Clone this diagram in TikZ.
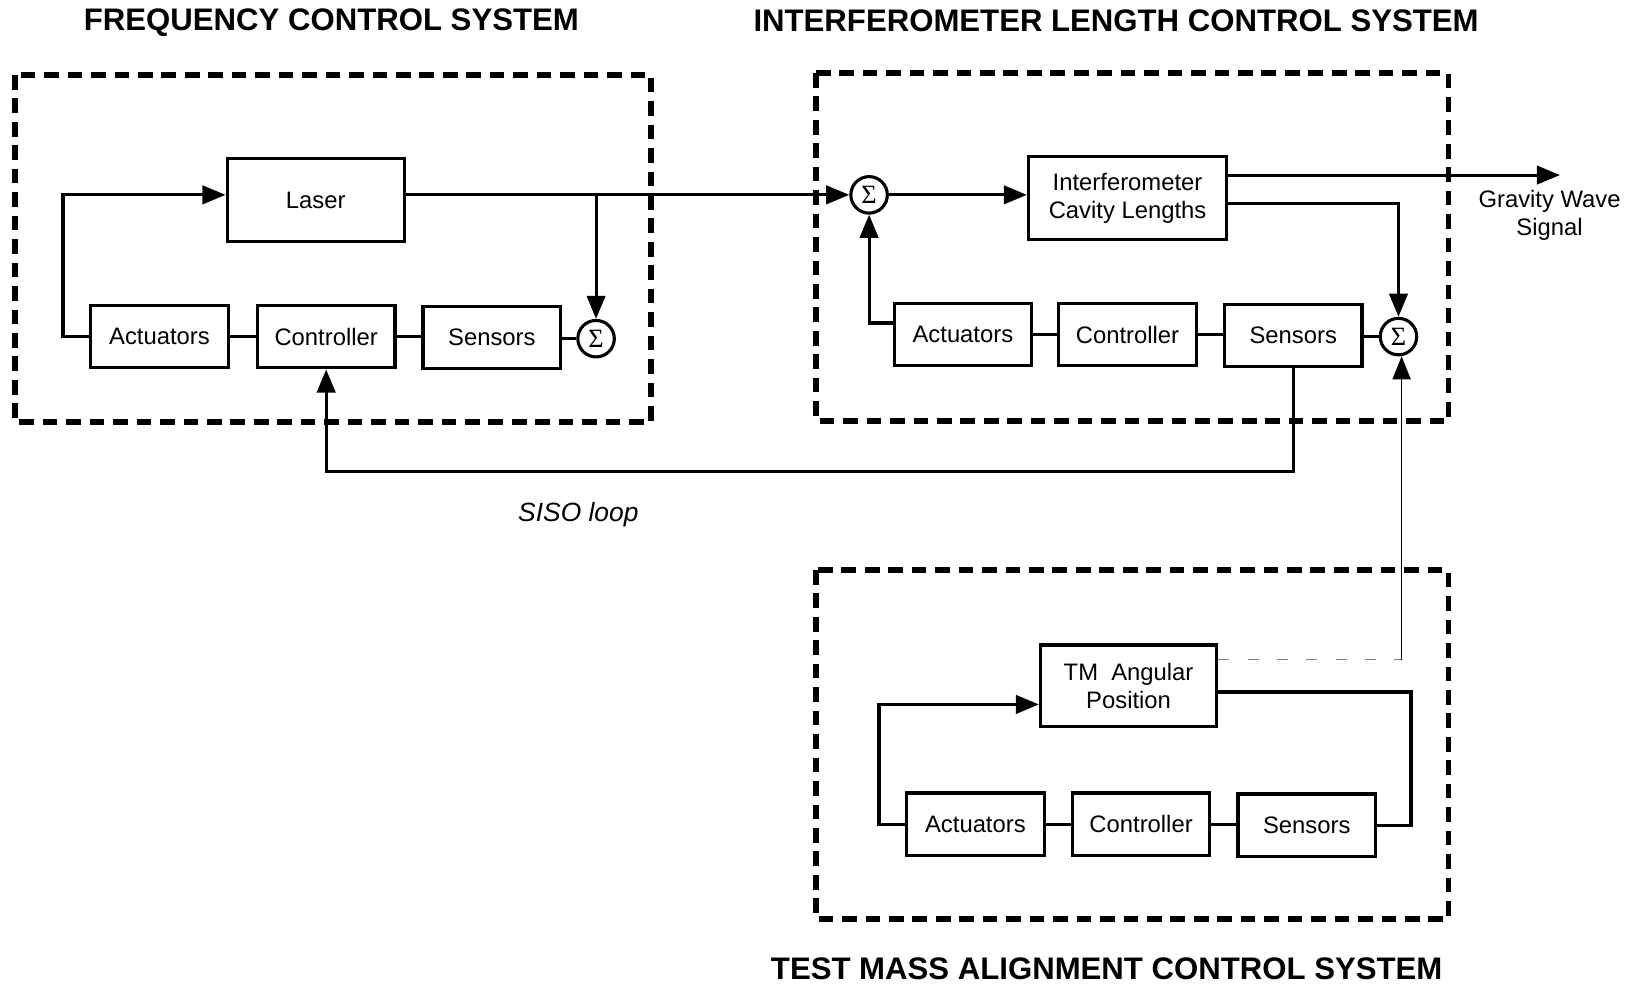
\documentclass[tikz,border=0pt]{standalone}
\usepackage{fontspec}
\setmainfont{Liberation Sans}
\newfontfamily\sigfont{Liberation Serif}
\usetikzlibrary{arrows.meta}
\begin{document}
\begin{tikzpicture}[x=0.01cm,y=-0.01cm,
  blk/.style={draw,line width=0.85pt,minimum width=1.32cm,minimum height=0.6cm,font=\fontsize{6.5}{7.6}\selectfont,inner sep=1pt,align=center},
  sumn/.style={draw,circle,line width=0.85pt,minimum size=0.35cm,inner sep=0pt,font=\sigfont\fontsize{7.2}{8}\selectfont},
  wire/.style={line width=0.85pt},
  arr/.style={wire,-{Triangle[length=6.3pt,width=5pt]}},
  thinarr/.style={line width=0.3pt,-{Triangle[length=6.3pt,width=5pt]}},
  frame/.style={line width=1.6pt,dash pattern=on 4pt off 2.4pt},
  ttl/.style={font=\fontsize{8.5}{10}\selectfont\bfseries},
  lbl/.style={font=\fontsize{6.5}{7.6}\selectfont,align=center}
]
\useasboundingbox (0,0) rectangle (1568,946);

% titles
\node[ttl] (t1) at (318,22) {FREQUENCY CONTROL SYSTEM};
\node[ttl] (t2) at (1071,20) {INTERFEROMETER LENGTH CONTROL SYSTEM};
\node[ttl] (t3) at (1062,930) {TEST MASS ALIGNMENT CONTROL SYSTEM};

% frames
\draw[frame] (14,72) rectangle (625,405);
\draw[frame] (783,70) rectangle (1390,404);
\draw[frame] (783,547) rectangle (1390,882);

% frequency control system
\node[blk,minimum width=1.70cm,minimum height=0.79cm] (laser) at (303,192) {Laser};
\node[blk] (act1) at (153,323) {Actuators};
\node[blk] (ctl1) at (313,323) {Controller};
\node[blk] (sen1) at (472,324) {Sensors};
\node[sumn] (s1) at (572,325) {Σ};

% interferometer length control system
\node[sumn] (s2) at (834,187) {Σ};
\node[blk,minimum width=1.90cm,minimum height=0.80cm] (int) at (1082,190) {Interferometer\\Cavity Lengths};
\node[blk] (act2) at (924,321) {Actuators};
\node[blk] (ctl2) at (1082,321) {Controller};
\node[blk] (sen2) at (1241,322) {Sensors};
\node[sumn] (s3) at (1342,323) {Σ};
\node[lbl] (gwl) at (1487,207) {Gravity Wave\\Signal};
\coordinate (gw) at (1497,168);

% test mass alignment control system
\node[blk,minimum width=1.69cm,minimum height=0.78cm] (tm) at (1083,658) {TM~~Angular\\Position};
\node[blk] (act3) at (936,791) {Actuators};
\node[blk] (ctl3) at (1095,791) {Controller};
\node[blk] (sen3) at (1254,792) {Sensors};

% SISO label
\node[lbl,font=\fontsize{7.2}{8}\selectfont\itshape] (siso) at (555,494) {SISO loop};

% connectors: frequency loop
\draw[arr] (laser.east |- s2) -- (s2.west);
\draw[arr] (s1 |- s2) -- (s1.north);
\draw[arr] (act1.west) -- ++(-25,0) |- (laser.west |- s2);
\draw[wire] (act1.east) -- (ctl1.west);
\draw[wire] (ctl1.east) -- (sen1.west |- ctl1.east);
\draw[wire] (sen1.east |- s1) -- (s1.west);

% SISO loop
\draw[arr] (sen2.south) -- ++(0,99) -| (ctl1.south);

% interferometer loop
\draw[arr] (s2.east) -- (int.west |- s2);
\draw[arr] (int.east |- gw) -- (gw);
\draw[arr] (int.east |- 0,195) -| (s3.north);
\draw[arr] (act2.west |- 0,310) -| (s2.south);
\draw[wire] (act2.east) -- (ctl2.west);
\draw[wire] (ctl2.east) -- (sen2.west |- ctl2.east);
\draw[wire] (sen2.east |- s3) -- (s3.west);

% TMA loop
\draw[arr] (act3.west) -- ++(-25,0) |- (tm.west |- 0,676);
\draw[wire] (tm.east |- 0,664) -- (1354,664) |- (sen3.east);
\draw[wire] (act3.east) -- (ctl3.west);
\draw[wire] (ctl3.east) -- (sen3.west |- ctl3.east);

% thin coupling into interferometer sum
\coordinate (tap) at (1345,633);
\draw[line width=0.3pt,gray,dash pattern=on 3pt off 5pt] (tm.north east |- tap) -- (tap);
\draw[thinarr] (tap) -- (s3.south -| tap);
\end{tikzpicture}
\end{document}
